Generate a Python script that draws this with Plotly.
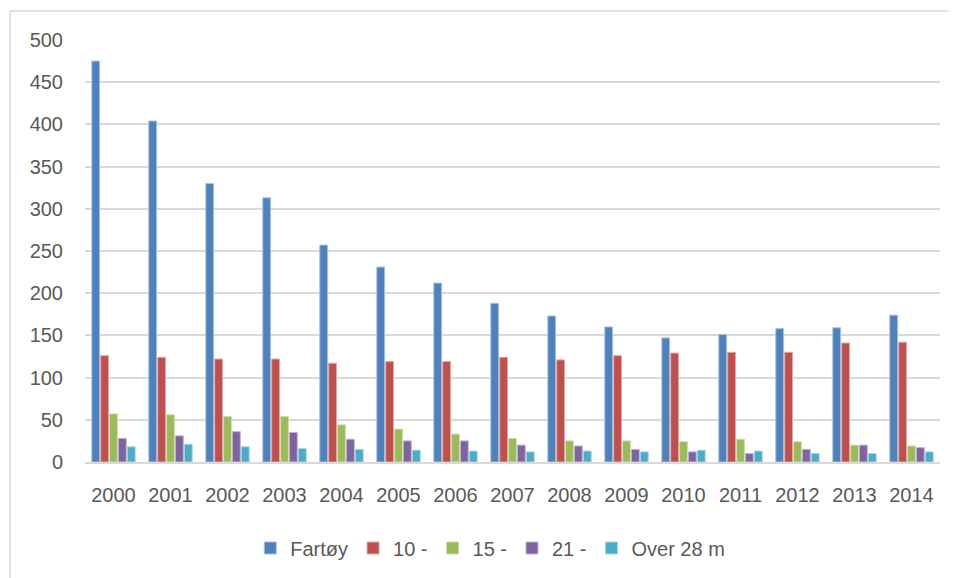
import plotly.graph_objects as go

# fartøy etter lengdegruppe, 2000-2014
years = [str(y) for y in range(2000, 2015)]
fartoy = [475, 404, 330, 313, 257, 231, 212, 188, 173, 160, 147, 151, 158, 159, 174]
l10 = [126, 124, 122, 122, 117, 119, 119, 124, 121, 126, 129, 130, 130, 141, 142]
l15 = [57, 56, 54, 54, 44, 39, 33, 28, 25, 25, 24, 27, 24, 20, 19]
l21 = [28, 31, 36, 35, 27, 25, 25, 20, 19, 15, 12, 10, 15, 20, 17]
over28 = [18, 21, 18, 16, 15, 14, 13, 12, 13, 12, 14, 13, 10, 10, 12]

series = [
    ("Fartøy", fartoy, "#4F81BD", "#A7C0DE"),
    ("10 -", l10, "#C0504D", "#E0A8A6"),
    ("15 -", l15, "#9BBB59", "#CDDDAC"),
    ("21 -", l21, "#8064A2", "#C0B2D1"),
    ("Over 28 m", over28, "#4BACC6", "#A5D6E3"),
]

fig = go.Figure()
for name, vals, col, edge in series:
    fig.add_trace(go.Bar(x=years, y=vals, name=name,
                         marker=dict(color=col, line=dict(color=edge, width=1))))

# siden har 8px body-marg, så figuren gjøres 8px mindre og flyttes opp/venstre
W, H = 949, 570
ml, mr, mt, mb = 77, 17, 32, 115
pw, ph = W - ml - mr, H - mt - mb

fig.update_layout(
    width=W, height=H,
    margin=dict(l=ml, r=mr, t=mt, b=mb),
    paper_bgcolor="white", plot_bgcolor="white",
    barmode="group", bargap=0.22, bargroupgap=0.12,
    font=dict(family="Liberation Sans, Arial", size=20, color="#595959"),
    legend=dict(orientation="h", x=0.474, xanchor="center",
                y=(mt + ph - 540) / ph, yanchor="middle",
                font=dict(size=20, color="#595959"), itemwidth=30,
                traceorder="normal"),
    showlegend=True,
)
fig.update_yaxes(range=[0, 500], dtick=50, showgrid=True, gridcolor="#D9D9D9",
                 gridwidth=1.5, zeroline=False, showline=False,
                 ticks="", ticklabelstandoff=21, automargin=False)
fig.update_xaxes(showgrid=False, showline=True, linecolor="#D9D9D9", linewidth=1.5,
                 ticks="", ticklabelstandoff=14, automargin=False)

# ytre ramme (kun venstre og topp synlig)
x0 = (2 - ml) / pw
y1 = 1 + (mt - 3) / ph
frame = dict(color="#D9D9D9", width=1.5)
fig.add_shape(type="line", xref="paper", yref="paper",
              x0=x0, x1=x0, y0=-0.5, y1=y1, line=frame, layer="below")
fig.add_shape(type="line", xref="paper", yref="paper",
              x0=x0, x1=1.2, y0=y1, y1=y1, line=frame, layer="below")

fig.write_html("out.html")
